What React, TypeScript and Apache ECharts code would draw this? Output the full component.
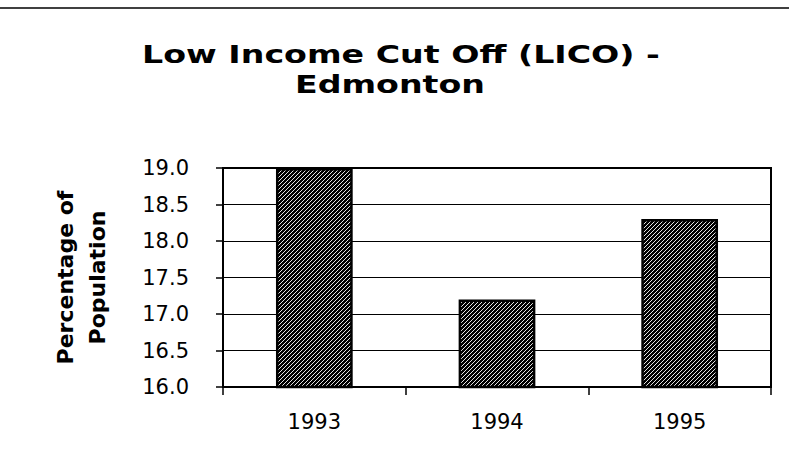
import React, { useEffect, useRef } from "react";
import * as echarts from "echarts";

const titleLines = ["Low Income Cut Off (LICO) -", "Edmonton"];
const yAxisTitle = ["Percentage of", "Population"];
const categories = ["1993", "1994", "1995"];
const values = [19.0, 17.2, 18.3];
const yMin = 16;
const yMax = 19;
const yStep = 0.5;

function makeHatch(): HTMLCanvasElement {
  const c = document.createElement("canvas");
  c.width = 8;
  c.height = 8;
  const ctx = c.getContext("2d")!;
  ctx.fillStyle = "#000";
  ctx.fillRect(0, 0, 8, 8);
  ctx.strokeStyle = "#fff";
  ctx.lineWidth = 0.9;
  for (let k = -8; k <= 16; k += 4) {
    ctx.beginPath();
    ctx.moveTo(k - 8, 8 + 8);
    ctx.lineTo(k + 8, 8 - 8);
    ctx.stroke();
  }
  return c;
}

export default function App() {
  const ref = useRef<HTMLDivElement>(null);
  useEffect(() => {
    if (!ref.current) return;
    const chart = echarts.init(ref.current, null, { renderer: "svg" });
    const hatch = makeHatch();
    const titleStyle = {
      fill: "#000",
      font: "bold 25px 'DejaVu Sans'",
      textAlign: "center",
      textVerticalAlign: "middle",
    };
    chart.setOption({
      animation: false,
      backgroundColor: "#fff",
      graphic: [
        {
          type: "line",
          shape: { x1: 0, y1: 8, x2: 789, y2: 8 },
          style: { stroke: "#000", lineWidth: 1.5 },
        },
        {
          type: "text",
          x: 401,
          y: 55,
          scaleX: 1.33,
          style: { ...titleStyle, text: titleLines[0] },
        },
        {
          type: "text",
          x: 390,
          y: 85,
          scaleX: 1.33,
          style: { ...titleStyle, text: titleLines[1] },
        },
      ],
      grid: {
        left: 223,
        right: 18,
        top: 168,
        bottom: 80,
        show: true,
        borderColor: "#000",
        borderWidth: 2,
        backgroundColor: "transparent",
      },
      xAxis: {
        type: "category",
        data: categories,
        axisLine: { lineStyle: { color: "#000", width: 2 } },
        axisTick: { show: true, length: 8, lineStyle: { color: "#000", width: 1.5 } },
        axisLabel: {
          color: "#000",
          fontFamily: "DejaVu Sans",
          fontSize: 21,
          margin: 24,
        },
      },
      yAxis: {
        type: "value",
        min: yMin,
        max: yMax,
        interval: yStep,
        name: yAxisTitle.join("\n"),
        nameLocation: "middle",
        nameRotate: 90,
        nameGap: 110,
        nameTextStyle: {
          color: "#000",
          fontFamily: "DejaVu Sans",
          fontWeight: "bold",
          fontSize: 22,
          lineHeight: 32,
        },
        axisLine: { show: true, lineStyle: { color: "#000", width: 2 } },
        axisTick: { show: true, length: 7, lineStyle: { color: "#000", width: 1.5 } },
        splitLine: { show: true, lineStyle: { color: "#000", width: 1 } },
        axisLabel: {
          color: "#000",
          fontFamily: "DejaVu Sans",
          fontSize: 21,
          margin: 34,
          formatter: (v: number) => v.toFixed(1),
        },
      },
      series: [
        {
          type: "bar",
          data: values,
          barWidth: "42%",
          itemStyle: {
            color: { image: hatch, repeat: "repeat" },
            borderColor: "#000",
            borderWidth: 2.5,
          },
        },
      ],
    });
    return () => chart.dispose();
  }, []);
  return <div ref={ref} style={{ width: 789, height: 467, position: "absolute", left: 0, top: 0 }} />;
}
